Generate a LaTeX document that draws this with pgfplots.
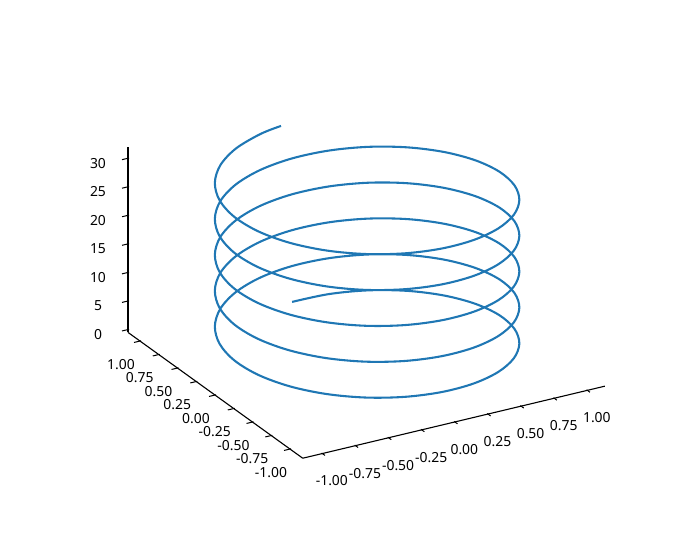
\documentclass[border=0pt]{standalone}
\usepackage{fontspec}
\setmainfont{Noto Sans}
\usepackage{pgfplots}
\pgfplotsset{compat=1.18}
\definecolor{cz}{HTML}{1F77B4}
\pgfplotstableread{
x y z
0 1 0
.2588 .9659 .2618
.5 .8660 .5236
.7071 .7071 .7854
.8660 .5 1.0472
.9659 .2588 1.3090
1 0 1.5708
.9659 -.2588 1.8326
.8660 -.5 2.0944
.7071 -.7071 2.3562
.5 -.8660 2.6180
.2588 -.9659 2.8798
0 -1 3.1416
-.2588 -.9659 3.4034
-.5 -.8660 3.6652
-.7071 -.7071 3.9270
-.8660 -.5 4.1888
-.9659 -.2588 4.4506
-1 0 4.7124
-.9659 .2588 4.9742
-.8660 .5 5.2360
-.7071 .7071 5.4978
-.5 .8660 5.7596
-.2588 .9659 6.0214
0 1 6.2832
.2588 .9659 6.5450
.5 .8660 6.8068
.7071 .7071 7.0686
.8660 .5 7.3304
.9659 .2588 7.5922
1 0 7.8540
.9659 -.2588 8.1158
.8660 -.5 8.3776
.7071 -.7071 8.6394
.5 -.8660 8.9012
.2588 -.9659 9.1630
0 -1 9.4248
-.2588 -.9659 9.6866
-.5 -.8660 9.9484
-.7071 -.7071 10.2102
-.8660 -.5 10.4720
-.9659 -.2588 10.7338
-1 0 10.9956
-.9659 .2588 11.2574
-.8660 .5 11.5192
-.7071 .7071 11.7810
-.5 .8660 12.0428
-.2588 .9659 12.3046
0 1 12.5664
.2588 .9659 12.8282
.5 .8660 13.0900
.7071 .7071 13.3518
.8660 .5 13.6136
.9659 .2588 13.8754
1 0 14.1372
.9659 -.2588 14.3990
.8660 -.5 14.6608
.7071 -.7071 14.9226
.5 -.8660 15.1844
.2588 -.9659 15.4462
0 -1 15.7080
-.2588 -.9659 15.9698
-.5 -.8660 16.2316
-.7071 -.7071 16.4934
-.8660 -.5 16.7552
-.9659 -.2588 17.0170
-1 0 17.2788
-.9659 .2588 17.5406
-.8660 .5 17.8024
-.7071 .7071 18.0642
-.5 .8660 18.3260
-.2588 .9659 18.5878
0 1 18.8496
.2588 .9659 19.1114
.5 .8660 19.3732
.7071 .7071 19.6350
.8660 .5 19.8968
.9659 .2588 20.1586
1 0 20.4204
.9659 -.2588 20.6822
.8660 -.5 20.9440
.7071 -.7071 21.2058
.5 -.8660 21.4676
.2588 -.9659 21.7294
0 -1 21.9912
-.2588 -.9659 22.2530
-.5 -.8660 22.5148
-.7071 -.7071 22.7766
-.8660 -.5 23.0384
-.9659 -.2588 23.3002
-1 0 23.5620
-.9659 .2588 23.8238
-.8660 .5 24.0856
-.7071 .7071 24.3474
-.5 .8660 24.6092
-.2588 .9659 24.8710
0 1 25.1328
.2588 .9659 25.3946
.5 .8660 25.6564
.7071 .7071 25.9182
.8660 .5 26.1800
.9659 .2588 26.4418
1 0 26.7036
.9659 -.2588 26.9654
.8660 -.5 27.2272
.7071 -.7071 27.4890
.5 -.8660 27.7508
.2588 -.9659 28.0126
0 -1 28.2744
-.2588 -.9659 28.5362
-.5 -.8660 28.7980
-.7071 -.7071 29.0598
-.8660 -.5 29.3216
-.9659 -.2588 29.5834
-1 0 29.8452
-.9659 .2588 30.1070
-.8660 .5 30.3688
-.7071 .7071 30.6306
-.5 .8660 30.8924
-.2588 .9659 31.1542
-.0857 .9963 31.33
}\helix
\pgfplotstableread{
x y z
-1 -1.205 -0.5
-1 -1.16 -0.5
nan nan nan
-0.75 -1.205 -0.5
-0.75 -1.16 -0.5
nan nan nan
-0.5 -1.205 -0.5
-0.5 -1.16 -0.5
nan nan nan
-0.25 -1.205 -0.5
-0.25 -1.16 -0.5
nan nan nan
0 -1.205 -0.5
0 -1.16 -0.5
nan nan nan
0.25 -1.205 -0.5
0.25 -1.16 -0.5
nan nan nan
0.5 -1.205 -0.5
0.5 -1.16 -0.5
nan nan nan
0.75 -1.205 -0.5
0.75 -1.16 -0.5
nan nan nan
1 -1.205 -0.5
1 -1.16 -0.5
nan nan nan
-1.193 -1 -0.5
-1.14 -1 -0.5
nan nan nan
-1.193 -0.75 -0.5
-1.14 -0.75 -0.5
nan nan nan
-1.193 -0.5 -0.5
-1.14 -0.5 -0.5
nan nan nan
-1.193 -0.25 -0.5
-1.14 -0.25 -0.5
nan nan nan
-1.193 0 -0.5
-1.14 0 -0.5
nan nan nan
-1.193 0.25 -0.5
-1.14 0.25 -0.5
nan nan nan
-1.193 0.5 -0.5
-1.14 0.5 -0.5
nan nan nan
-1.193 0.75 -0.5
-1.14 0.75 -0.5
nan nan nan
-1.193 1 -0.5
-1.14 1 -0.5
nan nan nan
-1.193 1.16 0
-1.14 1.16 0
nan nan nan
-1.193 1.16 5
-1.14 1.16 5
nan nan nan
-1.193 1.16 10
-1.14 1.16 10
nan nan nan
-1.193 1.16 15
-1.14 1.16 15
nan nan nan
-1.193 1.16 20
-1.14 1.16 20
nan nan nan
-1.193 1.16 25
-1.14 1.16 25
nan nan nan
-1.193 1.16 30
-1.14 1.16 30
}\tickmarks
\begin{document}
\begin{tikzpicture}
\path[use as bounding box] (0pt,0pt) rectangle (700pt,558pt);
\begin{axis}[
  at={(367.1pt,202.1pt)}, anchor=origin,
  disabledatascaling,
  x={(132.5pt,31.6pt)}, y={(-75pt,54pt)}, z={(0pt,5.71pt)},
  xmin=-1.148, xmax=1.132, ymin=-1.17, ymax=1.16, zmin=-0.5, zmax=32.0,
  axis lines=left, axis line style={-, line width=1.1pt, black},
  clip=false, grid=none,
  xtick={-1,-0.75,-0.5,-0.25,0,0.25,0.5,0.75,1},
  ytick={-1,-0.75,-0.5,-0.25,0,0.25,0.5,0.75,1},
  ztick={0,5,10,15,20,25,30},
  xticklabels={-1.00,-0.75,-0.50,-0.25,0.00,0.25,0.50,0.75,1.00},
  yticklabels={-1.00,-0.75,-0.50,-0.25,0.00,0.25,0.50,0.75,1.00},
  zticklabels={0,5,10,15,20,25,30},
  major tick length=0pt,
  tick style={draw=none},
  tick label style={font=\fontsize{13.9}{14}\selectfont, inner sep=0pt, anchor=center},
  xticklabel style={xshift=9.5pt, yshift=-27.5pt},
  yticklabel style={xshift=-19pt, yshift=-23.5pt},
  zticklabel style={xshift=-30pt, yshift=-5pt},
  minor tick num=0,
  unbounded coords=jump,
]
\addplot3[black, line width=1.0pt, no markers, forget plot] table[x=x,y=y,z=z] {\tickmarks};
\addplot3[cz, line width=2.08pt, smooth, tension=0.55, no markers] table[x=x,y=y,z=z] {\helix};
\end{axis}
\end{tikzpicture}
\end{document}
